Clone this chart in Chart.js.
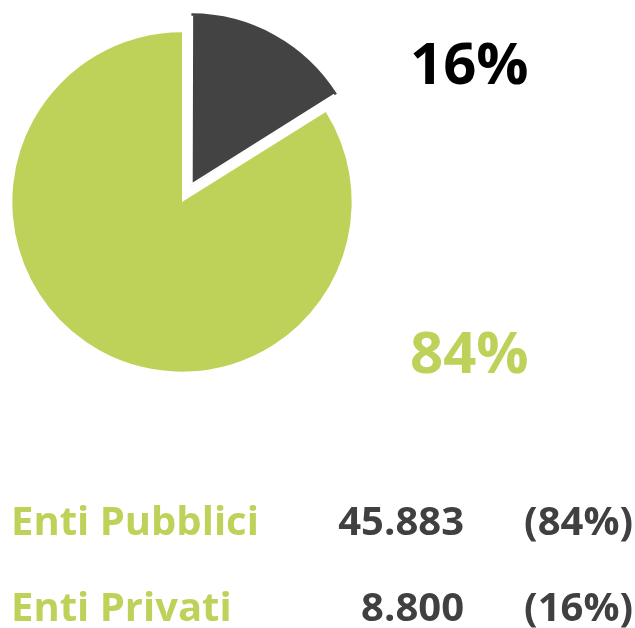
<!DOCTYPE html>
<html>
<head>
<meta charset="utf-8">
<script src="https://cdn.jsdelivr.net/npm/chart.js@4/dist/chart.umd.min.js"></script>
<style>
  html, body { margin: 0; padding: 0; background: #fff; }
  #wrap { position: relative; width: 635px; height: 628px; }
</style>
</head>
<body>
<div id="wrap"><canvas id="pieChart" width="635" height="628"></canvas></div>
<script>
  // categories and values (Enti Privati first, clockwise from 12 o'clock)
  const categories = ["Enti Privati", "Enti Pubblici"];
  const values = [8800, 45883];
  const colors = ["#434343", "#bed25a"];
  const offsets = [74, 0]; // chart.js moves the arc by offset / 4

  const total = values.reduce((a, b) => a + b, 0);
  const pct = values.map((v) => Math.round((v / total) * 100) + "%");
  const fmt = (v) => v.toLocaleString("de-DE");

  /*Big labels and legend rows drawn after the pie*/
  const textPlugin = {
    id: "textPlugin",
    afterDraw(chart) {
      const ctx = chart.ctx;
      ctx.save();
      ctx.textBaseline = "alphabetic";

      // big percentages beside the pie
      ctx.font = "bold 58px 'Open Sans'";
      ctx.textAlign = "left";
      ctx.fillStyle = "#000000";
      ctx.fillText(pct[0], 410, 84);
      ctx.fillStyle = colors[1];
      ctx.fillText(pct[1], 410, 373);

      // legend rows: Pubblici then Privati
      const rows = [
        { i: 1, y: 535 },
        { i: 0, y: 621 },
      ];
      ctx.font = "bold 40px 'Open Sans'";
      rows.forEach((r) => {
        ctx.textAlign = "left";
        ctx.fillStyle = colors[1];
        ctx.fillText(categories[r.i], 11, r.y);
        ctx.fillStyle = "#404040";
        ctx.textAlign = "right";
        ctx.fillText(fmt(values[r.i]), 464, r.y);
        ctx.fillText("(" + pct[r.i] + ")", 633, r.y);
      });
      ctx.restore();
    },
  };

  const ctx = document.getElementById("pieChart").getContext("2d");
  new Chart(ctx, {
    type: "pie",
    data: {
      labels: categories,
      datasets: [
        {
          data: values,
          backgroundColor: colors,
          borderColor: "#ffffff",
          borderWidth: [1.75, 0],
          borderAlign: "inner",
          offset: offsets,
        },
      ],
    },
    options: {
      responsive: false,
      animation: false,
      radius: 170,
      layout: { padding: { left: 0, top: 0, right: 271, bottom: 224 } },
      plugins: {
        legend: { display: false },
        tooltip: { enabled: false },
      },
    },
    plugins: [textPlugin],
  });
</script>
</body>
</html>
